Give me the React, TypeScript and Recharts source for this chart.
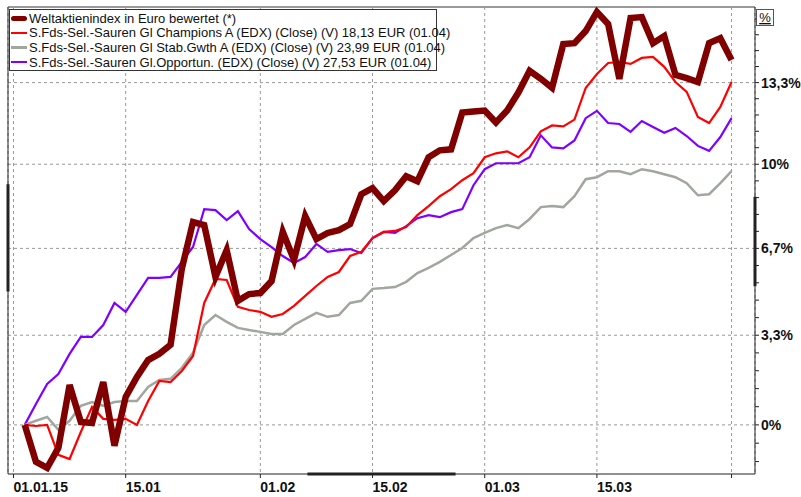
import { LineChart, Line, XAxis, YAxis, CartesianGrid, ReferenceLine, Legend } from "recharts"

// trading days 02.01.2015 – 01.04.2015
const days = [
  "02.01", "05.01", "06.01", "07.01", "08.01", "09.01", "12.01", "13.01", "14.01", "15.01",
  "16.01", "19.01", "20.01", "21.01", "22.01", "23.01", "26.01", "27.01", "28.01", "29.01",
  "30.01", "02.02", "03.02", "04.02", "05.02", "06.02", "09.02", "10.02", "11.02", "12.02",
  "13.02", "16.02", "17.02", "18.02", "19.02", "20.02", "23.02", "24.02", "25.02", "26.02",
  "27.02", "02.03", "03.03", "04.03", "05.03", "06.03", "09.03", "10.03", "11.03", "12.03",
  "13.03", "16.03", "17.03", "18.03", "19.03", "20.03", "23.03", "24.03", "25.03", "26.03",
  "27.03", "30.03", "31.03", "01.04",
]

// performance in % since start
const welt = [
  0, -1.34, -1.56, -0.84, 1.47, 0.11, 0.07, 1.58, -0.76, 1.03,
  1.77, 2.4, 2.63, 2.97, 5.87, 7.7, 7.58, 5.56, 6.6, 4.64,
  4.9, 4.94, 5.4, 7.31, 6.22, 7.93, 7.03, 7.27, 7.38, 7.62,
  8.8, 9.04, 8.53, 8.96, 9.52, 9.32, 10.28, 10.56, 10.6, 12.1,
  12.14, 12.18, 11.69, 12.18, 12.92, 13.82, 13.49, 13.12, 14.94, 14.98,
  15.49, 16.3, 15.79, 13.49, 16.04, 16.08, 14.98, 15.28, 13.65, 13.52,
  13.36, 14.98, 15.19, 14.27,
]
const champions = [
  0, -0.04, 0, -1.09, -1.24, -0.26, 0.66, 0.22, 0.18, 0.22,
  0, 0.88, 1.62, 1.58, 1.99, 2.55, 4.56, 5.48, 5.44, 4.41,
  4.29, 4.22, 4.03, 4.14, 4.45, 4.83, 5.21, 5.56, 5.75, 6.37,
  6.53, 7.07, 7.31, 7.35, 7.5, 7.97, 8.33, 8.72, 9.0, 9.36,
  9.64, 10.28, 10.44, 10.52, 10.28, 10.68, 11.33, 11.57, 11.53, 11.81,
  13.11, 13.69, 14.15, 14.19, 14.11, 14.36, 14.4, 13.99, 13.36, 12.95,
  11.92, 11.67, 12.33, 13.36,
]
const stabGwth = [
  0, 0.15, 0.29, -0.18, 0.15, 0.7, 0.84, 0.7, 0.84, 0.88,
  0.88, 1.4, 1.66, 1.7, 2.11, 2.67, 3.72, 4.1, 3.84, 3.61,
  3.53, 3.46, 3.38, 3.38, 3.72, 3.95, 4.18, 4.03, 4.1, 4.56,
  4.64, 5.1, 5.13, 5.17, 5.37, 5.71, 5.91, 6.14, 6.41, 6.68,
  7.07, 7.27, 7.46, 7.58, 7.46, 7.82, 8.29, 8.33, 8.29, 8.72,
  9.4, 9.48, 9.72, 9.72, 9.6, 9.8, 9.72, 9.6, 9.48, 9.24,
  8.76, 8.8, 9.24, 9.72,
]
const opportun = [
  0, 0.77, 1.51, 1.88, 2.63, 3.27, 3.27, 3.72, 4.56, 4.22,
  4.87, 5.52, 5.52, 5.56, 6.14, 6.72, 8.21, 8.17, 7.78, 8.13,
  7.42, 7.03, 6.72, 6.37, 6.1, 6.33, 6.84, 6.53, 6.6, 6.64,
  6.49, 7.07, 7.31, 7.27, 7.54, 7.85, 7.97, 7.89, 8.09, 8.21,
  9.16, 9.8, 10.04, 10.04, 10.04, 10.28, 11.17, 10.68, 10.64, 10.96,
  11.87, 12.17, 11.67, 11.63, 11.31, 11.75, 11.51, 11.27, 11.47, 11.14,
  10.74, 10.54, 11.1, 11.87,
]

// x ticks sit on the first trading day of each period; 01.01 is a holiday (index -1)
const xTickDays = ["01.01", "15.01", "02.02", "16.02", "02.03", "16.03", "01.04"]
const xTickLabels = ["01.01.15", "15.01", "01.02", "15.02", "01.03", "15.03", ""]

const yMajor = [0, 3.333, 6.667, 10, 13.333]
const yMajorLabels = ["0%", "3,3%", "6,7%", "10%", "13,3%"]
const yMinor = [
  -1.333, -0.667, 0.667, 1.333, 2, 2.667, 4, 4.667, 5.333, 6, 7.333, 8, 8.667,
  9.333, 10.667, 11.333, 12, 12.667, 14, 14.667, 15.333, 16,
]

const series = [
  { key: "opportun", name: "S.Fds-Sel.-Sauren Gl.Opportun. (EDX) (Close) (V) 27,53 EUR (01.04)", color: "#8000ff", width: 2.2 },
  { key: "stabGwth", name: "S.Fds-Sel.-Sauren Gl Stab.Gwth A (EDX) (Close) (V) 23,99 EUR (01.04)", color: "#9fa79f", width: 2.5 },
  { key: "champions", name: "S.Fds-Sel.-Sauren Gl Champions A (EDX) (Close) (V) 18,13 EUR (01.04)", color: "#ff0000", width: 2.2 },
  { key: "welt", name: "Weltaktienindex in Euro bewertet (*)", color: "#800000", width: 6.5 },
]

const FONT = '"Liberation Sans", Arial, sans-serif'
const X_MIN = -1.49
const X_MAX = 65.09
const Y_MIN = 98.22
const Y_MAX = 116.51

const data = days.map((day, i) => ({
  i,
  day,
  welt: 100 + welt[i],
  champions: 100 + champions[i],
  stabGwth: 100 + stabGwth[i],
  opportun: 100 + opportun[i],
}))

const xTicks = xTickDays.map((d) => days.indexOf(d))
const yTicks = [...yMinor, ...yMajor].sort((a, b) => a - b).map((v) => 100 + v)

function XTick({ x, y, payload }: any) {
  const label = xTickLabels[xTicks.indexOf(payload.value)]
  return (
    <text x={x} y={y} dy={12} textAnchor="start" fontFamily={FONT} fontSize={14} fontWeight="bold" fill="#111">
      {label}
    </text>
  )
}

function YTick({ x, y, payload }: any) {
  const idx = yMajor.findIndex((m) => Math.abs(100 + m - payload.value) < 1e-6)
  if (idx < 0) return <g />
  return (
    <text x={x} y={y} dy={5} textAnchor="start" fontFamily={FONT} fontSize={14} fontWeight="bold" fill="#111">
      {yMajorLabels[idx]}
    </text>
  )
}

function UnitLabel({ viewBox }: any) {
  const { x, y } = viewBox
  return (
    <g>
      <rect x={x + 1.5} y={y + 2.5} width={17} height={16} fill="#fff" stroke="#555" strokeWidth={1} />
      <text x={x + 10} y={y + 15} textAnchor="middle" fontFamily={FONT} fontSize={13} fill="#111" textDecoration="underline">
        %
      </text>
    </g>
  )
}

function LegendBox() {
  const rows = [...series].reverse()
  return (
    <div
      style={{
        background: "#fff",
        border: "1px solid #333",
        width: 426,
        padding: "1px 0",
        fontFamily: FONT,
        fontSize: 13,
        color: "#111",
      }}
    >
      {rows.map((s) => (
        <div key={s.key} style={{ display: "flex", alignItems: "center", height: 14.6, whiteSpace: "nowrap" }}>
          <span
            style={{
              display: "inline-block",
              flexShrink: 0,
              width: 16,
              height: s.key === "welt" ? 5 : 2.5,
              borderRadius: s.key === "welt" ? 3 : 0,
              background: s.color,
              margin: "0 2px 0 1px",
            }}
          />
          {s.name}
        </div>
      ))}
    </div>
  )
}

export default function App() {
  return (
    <div style={{ position: "absolute", left: 0, top: 0, width: 801, height: 497, background: "#fff" }}>
      <LineChart width={801} height={497} data={data} margin={{ top: 7, right: 0, bottom: 0, left: 8 }}>
        <CartesianGrid horizontal={false} stroke="#999" strokeDasharray="3 3" />
        <XAxis
          type="number"
          dataKey="i"
          domain={[X_MIN, X_MAX]}
          ticks={xTicks}
          interval={0}
          height={23}
          tick={<XTick />}
          tickSize={4}
          axisLine={{ stroke: "#222" }}
          tickLine={{ stroke: "#222" }}
        />
        <YAxis
          orientation="right"
          scale="log"
          domain={[Y_MIN, Y_MAX]}
          allowDataOverflow
          ticks={yTicks}
          interval={0}
          width={46}
          tick={<YTick />}
          tickSize={4}
          axisLine={{ stroke: "#222" }}
          tickLine={{ stroke: "#222" }}
          label={{ content: <UnitLabel /> }}
        />
        {yMajor.map((m) => (
          <ReferenceLine key={m} y={100 + m} stroke="#999" strokeDasharray="3 3" />
        ))}
        <ReferenceLine y={Y_MAX} stroke="#999" strokeWidth={2} />
        <ReferenceLine x={X_MIN} stroke="#222" />
        {/* heavier frame segments seen in the original */}
        <ReferenceLine segment={[{ x: X_MIN, y: 105.0 }, { x: X_MIN, y: 109.2 }]} stroke="#222" strokeWidth={3} />
        <ReferenceLine segment={[{ x: X_MAX, y: 105.2 }, { x: X_MAX, y: 108.7 }]} stroke="#222" strokeWidth={3} />
        <ReferenceLine segment={[{ x: 25.2, y: Y_MIN }, { x: 38.4, y: Y_MIN }]} stroke="#222" strokeWidth={3} />
        {series.map((s) => (
          <Line
            key={s.key}
            type="linear"
            dataKey={s.key}
            name={s.name}
            stroke={s.color}
            strokeWidth={s.width}
            dot={false}
            activeDot={false}
            isAnimationActive={false}
          />
        ))}
        <Legend
          layout="vertical"
          align="center"
          verticalAlign="middle"
          wrapperStyle={{ top: 9, left: 9, width: "auto" }}
          content={() => <LegendBox />}
        />
      </LineChart>
    </div>
  )
}
